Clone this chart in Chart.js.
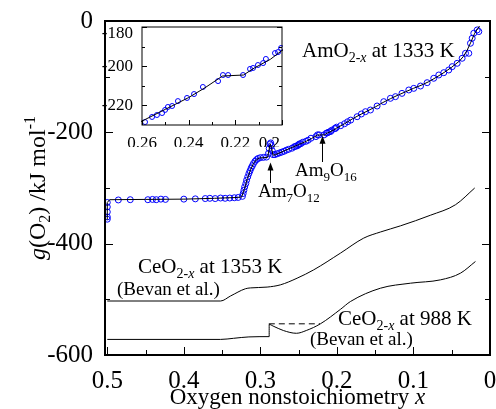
<!DOCTYPE html>
<html>
<head>
<meta charset="utf-8">
<script src="https://cdn.jsdelivr.net/npm/chart.js@4.4.0/dist/chart.umd.min.js"></script>
<style>
  html, body { margin: 0; padding: 0; background: #fff; }
  #wrap { position: relative; width: 496px; height: 409px; }
  #main { position: absolute; left: 0; top: 0; }
  #inset { position: absolute; left: 100px; top: 17px; }
</style>
</head>
<body>
<div id="wrap">
  <canvas id="main" width="496" height="409"></canvas>
  <canvas id="inset" width="190" height="130"></canvas>
</div>
<script>
const SERIF = '"Liberation Serif", "Times New Roman", serif';

// AmO2-x at 1333 K, measured points
const amX = [0.5, 0.5, 0.5, 0.5, 0.5, 0.4856,
  0.470, 0.447, 0.441, 0.436, 0.430, 0.424, 0.400, 0.385, 0.372, 0.366, 0.359, 0.352, 0.346, 0.340, 0.334, 0.329, 0.3235,
  0.3225, 0.3215, 0.3205, 0.319, 0.318, 0.3165, 0.315, 0.3135, 0.312, 0.3105, 0.309, 0.307, 0.305, 0.303,
  0.300, 0.296, 0.292,
  0.2895, 0.2885, 0.2875, 0.2865, 0.2855, 0.2845, 0.2835,
  0.281, 0.278, 0.275, 0.272, 0.269, 0.266, 0.263,
  0.2587, 0.2557, 0.2536, 0.2514, 0.2501, 0.2489, 0.2471, 0.2446, 0.2407, 0.2377, 0.2339, 0.2274,
  0.2253, 0.2231, 0.2167, 0.2137, 0.2124, 0.2103, 0.2081, 0.2069, 0.2030, 0.2017, 0.2004,
  0.195, 0.190, 0.186, 0.182, 0.1736, 0.1680, 0.1627, 0.1562, 0.1475, 0.1388, 0.1301, 0.1235, 0.115,
  0.1061, 0.0996, 0.0908, 0.0821, 0.0735, 0.0669, 0.0604, 0.0539, 0.0494, 0.0429, 0.0364, 0.032,
  0.0277, 0.0255, 0.0233, 0.0212, 0.0167, 0.0146];
const amG = [-356, -352, -343, -334, -326, -321.5,
  -321, -321, -320.5, -321, -320, -320.5, -320, -319.5, -319, -318.5, -319, -318, -318.5, -318, -317.5, -317, -315,
  -310, -304, -298, -292, -286, -280, -274, -269, -264, -260, -256, -252, -249, -247,
  -245.5, -245, -244.5,
  -238, -229, -221, -219, -224, -233, -240,
  -240, -238.5, -237, -235.5, -234, -232, -230.5,
  -228.5, -225.9, -224.9, -223.9, -222.3, -220.8, -220.3, -217.8, -216.2, -214.2, -210.6, -207.6,
  -204.5, -204.5, -204.5, -201.4, -200.9, -199.4, -198.4, -196.3, -193.3, -192.8, -190.7,
  -188, -184.5, -181, -178, -171.9, -167, -162.9, -159.9, -152.7, -144.9, -138.9, -135.9, -130,
  -123.9, -121, -116.8, -110.8, -102.9, -97, -92.8, -88, -82, -76, -67, -58,
  -58, -40, -31, -22, -16, -19];

// smooth curve through the AmO2-x points
const fitX = [0.5, 0.5, 0.497, 0.45, 0.40, 0.36, 0.33, 0.3245, 0.321, 0.317, 0.313, 0.309, 0.305, 0.301,
  0.2905, 0.2885, 0.287, 0.2855, 0.2835, 0.280, 0.270, 0.260, 0.250, 0.240, 0.233, 0.2255, 0.2165,
  0.212, 0.205, 0.200, 0.190, 0.180, 0.170, 0.160, 0.150, 0.140, 0.130, 0.120, 0.110, 0.100,
  0.090, 0.080, 0.070, 0.060, 0.050, 0.040, 0.035, 0.030, 0.025, 0.020, 0.0137];
const fitG = [-357, -326, -321, -320.5, -320, -318.5, -317, -316, -303, -283, -268, -256, -249, -246,
  -245, -230, -221, -228, -241, -240, -234, -228, -222, -216, -211, -205, -204.5,
  -201, -196.5, -192, -184.5, -176, -168.5, -161.5, -154.5, -146.5, -139.5, -133, -127, -121,
  -115.5, -109, -101, -92.5, -83, -72, -64, -53, -38, -22, -9];

// CeO2-x at 1353 K (Bevan et al.)
const ce1353X = [0.5, 0.352, 0.339, 0.3196, 0.3131, 0.2912, 0.2739, 0.252, 0.2303, 0.1954, 0.165, 0.143, 0.117, 0.078, 0.045, 0.02];
const ce1353G = [-503, -503, -494, -481, -479.5, -478, -474, -462, -447, -417, -390, -379, -368, -349, -330, -300];

// CeO2-x at 988 K (Bevan et al.)
const ce988X = [0.5, 0.352, 0.335, 0.315, 0.2885, 0.2885, 0.2834, 0.27, 0.2529, 0.24, 0.2216, 0.1954, 0.1824, 0.1431, 0.1039, 0.0647, 0.0386, 0.019];
const ce988G = [-572, -572, -570, -567.5, -567, -545, -548, -556, -561, -556, -544, -518, -504, -480, -471, -465, -453, -432];

// two-phase tie line at 988 K
const tieX = [0.289, 0.222];
const tieG = [-544, -544];

const xTicks = [0.5, 0.4, 0.3, 0.2, 0.1, 0];
const xMinor = [0.45, 0.35, 0.25, 0.15, 0.05];
const yTicks = [0, -200, -400, -600];
const yMinor = [-100, -300, -500];
const insetXTicks = [0.2, 0.22, 0.24, 0.26];
const insetXMinor = [0.21, 0.23, 0.25];
const insetYTicks = [-220, -200, -180];
const insetYMinor = [-210, -190];

const pts = (xs, ys) => xs.map((x, i) => ({ x, y: ys[i] }));

// box around the plot area with inward ticks (bottom, left, right)
const frame = {
  id: 'frame',
  afterDraw(chart, args, o) {
    const { ctx, chartArea: a, scales: { x, y } } = chart;
    ctx.save();
    ctx.strokeStyle = '#000';
    ctx.lineWidth = o.lineWidth;
    ctx.strokeRect(a.left, a.top, a.right - a.left, a.bottom - a.top);
    ctx.lineWidth = 1;
    ctx.beginPath();
    const xt = (v, len) => {
      const px = Math.round(x.getPixelForValue(v)) + 0.5;
      ctx.moveTo(px, a.bottom); ctx.lineTo(px, a.bottom - len);
    };
    const yt = (v, len) => {
      const py = Math.round(y.getPixelForValue(v)) + 0.5;
      ctx.moveTo(a.left, py); ctx.lineTo(a.left + len, py);
      ctx.moveTo(a.right, py); ctx.lineTo(a.right - len, py);
    };
    o.xMajor.forEach(v => xt(v, o.major));
    o.xMinor.forEach(v => xt(v, o.minor));
    o.yMajor.forEach(v => yt(v, o.major));
    o.yMinor.forEach(v => yt(v, o.minor));
    ctx.stroke();
    ctx.restore();
  }
};

function seg(t, size, dy = 0, italic = false) {
  return { t, size, dy, italic };
}

function drawRich(ctx, x, y, parts, align) {
  const fontOf = p => (p.italic ? 'italic ' : '') + p.size + 'px ' + SERIF;
  let w = 0;
  parts.forEach(p => { ctx.font = fontOf(p); w += ctx.measureText(p.t).width; });
  let cx = align === 'center' ? x - w / 2 : x;
  ctx.textAlign = 'left';
  ctx.textBaseline = 'alphabetic';
  parts.forEach(p => {
    ctx.font = fontOf(p);
    ctx.fillText(p.t, cx, y + p.dy);
    cx += ctx.measureText(p.t).width;
  });
}

function arrowUp(ctx, px, yFrom, yTip) {
  ctx.beginPath();
  ctx.moveTo(px, yFrom);
  ctx.lineTo(px, yTip + 6);
  ctx.stroke();
  ctx.beginPath();
  ctx.moveTo(px, yTip);
  ctx.lineTo(px - 3, yTip + 8);
  ctx.lineTo(px + 3, yTip + 8);
  ctx.closePath();
  ctx.fill();
}

// curve labels, phase arrows and axis titles
const labels = {
  id: 'labels',
  afterDraw(chart) {
    const { ctx, chartArea: a, scales: { x, y } } = chart;
    ctx.save();
    ctx.fillStyle = '#000';
    ctx.strokeStyle = '#000';
    ctx.lineWidth = 1;

    drawRich(ctx, 302, 57, [seg('AmO', 21), seg('2-', 14, 5), seg('x', 14, 5, true), seg(' at 1333 K', 21)]);
    drawRich(ctx, 138, 273, [seg('CeO', 21), seg('2-', 14, 5), seg('x', 14, 5, true), seg(' at 1353 K', 21)]);
    drawRich(ctx, 117, 295, [seg('(Bevan et al.)', 19)]);
    drawRich(ctx, 338, 325, [seg('CeO', 21), seg('2-', 14, 5), seg('x', 14, 5, true), seg(' at 988 K', 21)]);
    drawRich(ctx, 310, 345, [seg('(Bevan et al.)', 19)]);

    drawRich(ctx, 258, 197, [seg('Am', 19), seg('7', 13, 5), seg('O', 19), seg('12', 13, 5)]);
    drawRich(ctx, 295, 176, [seg('Am', 19), seg('9', 13, 5), seg('O', 19), seg('16', 13, 5)]);
    arrowUp(ctx, Math.round(x.getPixelForValue(0.287)) + 0.5, 183, y.getPixelForValue(-254));
    arrowUp(ctx, Math.round(x.getPixelForValue(0.219)) + 0.5, 162, y.getPixelForValue(-206));

    drawRich(ctx, (a.left + a.right) / 2, 404,
      [seg('Oxygen nonstoichiometry ', 23), seg('x', 23, 0, true)], 'center');

    ctx.translate(45, (a.top + a.bottom) / 2);
    ctx.rotate(-Math.PI / 2);
    drawRich(ctx, 0, 0, [seg('g', 24, 0, true), seg('(O', 24), seg('2', 16, 5), seg(') /kJ mol', 24), seg('-1', 16, -10)], 'center');
    ctx.restore();
  }
};

const lineDs = (xs, ys, extra) => Object.assign({
  data: pts(xs, ys), showLine: true, borderColor: '#000', borderWidth: 1, pointRadius: 0
}, extra);

new Chart(document.getElementById('main'), {
  type: 'scatter',
  data: {
    datasets: [
      lineDs(ce1353X, ce1353G, { cubicInterpolationMode: 'monotone' }),
      lineDs(ce988X, ce988G, { cubicInterpolationMode: 'monotone' }),
      lineDs(tieX, tieG, { borderDash: [6, 4] }),
      lineDs(fitX, fitG),
      {
        data: pts(amX, amG), showLine: false, pointRadius: 3,
        pointBorderColor: '#0000ff', pointBackgroundColor: 'rgba(0,0,0,0)', pointBorderWidth: 1
      }
    ]
  },
  options: {
    responsive: false,
    animation: false,
    layout: { padding: { left: 0, top: 21, right: 6, bottom: 0 } },
    plugins: {
      legend: { display: false },
      tooltip: { enabled: false },
      frame: { lineWidth: 2, major: 8, minor: 5, xMajor: xTicks, xMinor, yMajor: yTicks, yMinor }
    },
    scales: {
      x: {
        type: 'linear', reverse: true, min: 0, max: 0.503,
        grid: { display: false }, border: { display: false },
        afterBuildTicks: s => { s.ticks = xTicks.map(v => ({ value: v })); },
        afterFit: s => { s.height = 54; s.paddingLeft = 0; s.paddingRight = 0; },
        ticks: {
          autoSkip: false, maxRotation: 0, padding: 3, color: '#000',
          font: { family: SERIF, size: 25 },
          callback: v => String(v)
        }
      },
      y: {
        type: 'linear', min: -600, max: 0,
        grid: { display: false }, border: { display: false },
        afterBuildTicks: s => { s.ticks = yTicks.map(v => ({ value: v })); },
        afterFit: s => { s.width = 105; s.paddingTop = 0; s.paddingBottom = 0; },
        ticks: {
          autoSkip: false, padding: 4, color: '#000',
          font: { family: SERIF, size: 25 },
          callback: v => String(v)
        }
      }
    }
  },
  plugins: [frame, labels]
});

// inset: close-up of the AmO2-x curve between x = 0.26 and 0.2
new Chart(document.getElementById('inset'), {
  type: 'scatter',
  data: {
    datasets: [
      lineDs(fitX, fitG, { clip: 1 }),
      {
        data: pts(amX, amG), showLine: false, pointRadius: 2.5, clip: 1,
        pointBorderColor: '#0000ff', pointBackgroundColor: 'rgba(0,0,0,0)', pointBorderWidth: 1
      }
    ]
  },
  options: {
    responsive: false,
    animation: false,
    layout: { padding: { left: 0, top: 10, right: 8, bottom: 0 } },
    plugins: {
      legend: { display: false },
      tooltip: { enabled: false },
      frame: { lineWidth: 1, major: 5, minor: 3, xMajor: insetXTicks, xMinor: insetXMinor, yMajor: insetYTicks, yMinor: insetYMinor }
    },
    scales: {
      x: {
        type: 'linear', reverse: true, min: 0.2, max: 0.26,
        grid: { display: false }, border: { display: false },
        afterBuildTicks: s => { s.ticks = insetXTicks.map(v => ({ value: v })); },
        afterFit: s => { s.height = 22; s.paddingLeft = 0; s.paddingRight = 0; },
        ticks: {
          autoSkip: false, maxRotation: 0, padding: 0, color: '#000',
          font: { family: SERIF, size: 17 },
          callback: v => (v === 0.2 ? '0.2\u2002\u2002\u2002' : String(v))
        }
      },
      y: {
        type: 'linear', min: -230, max: -180,
        grid: { display: false }, border: { display: false },
        afterBuildTicks: s => { s.ticks = insetYTicks.map(v => ({ value: v })); },
        afterFit: s => { s.width = 42; s.paddingTop = 0; s.paddingBottom = 0; },
        ticks: {
          autoSkip: false, padding: 1, color: '#000',
          font: { family: SERIF, size: 17, lineHeight: 0.75 },
          callback: v => (v === -180 ? ['', '-180'] : String(v))
        }
      }
    }
  },
  plugins: [frame]
});
</script>
</body>
</html>
